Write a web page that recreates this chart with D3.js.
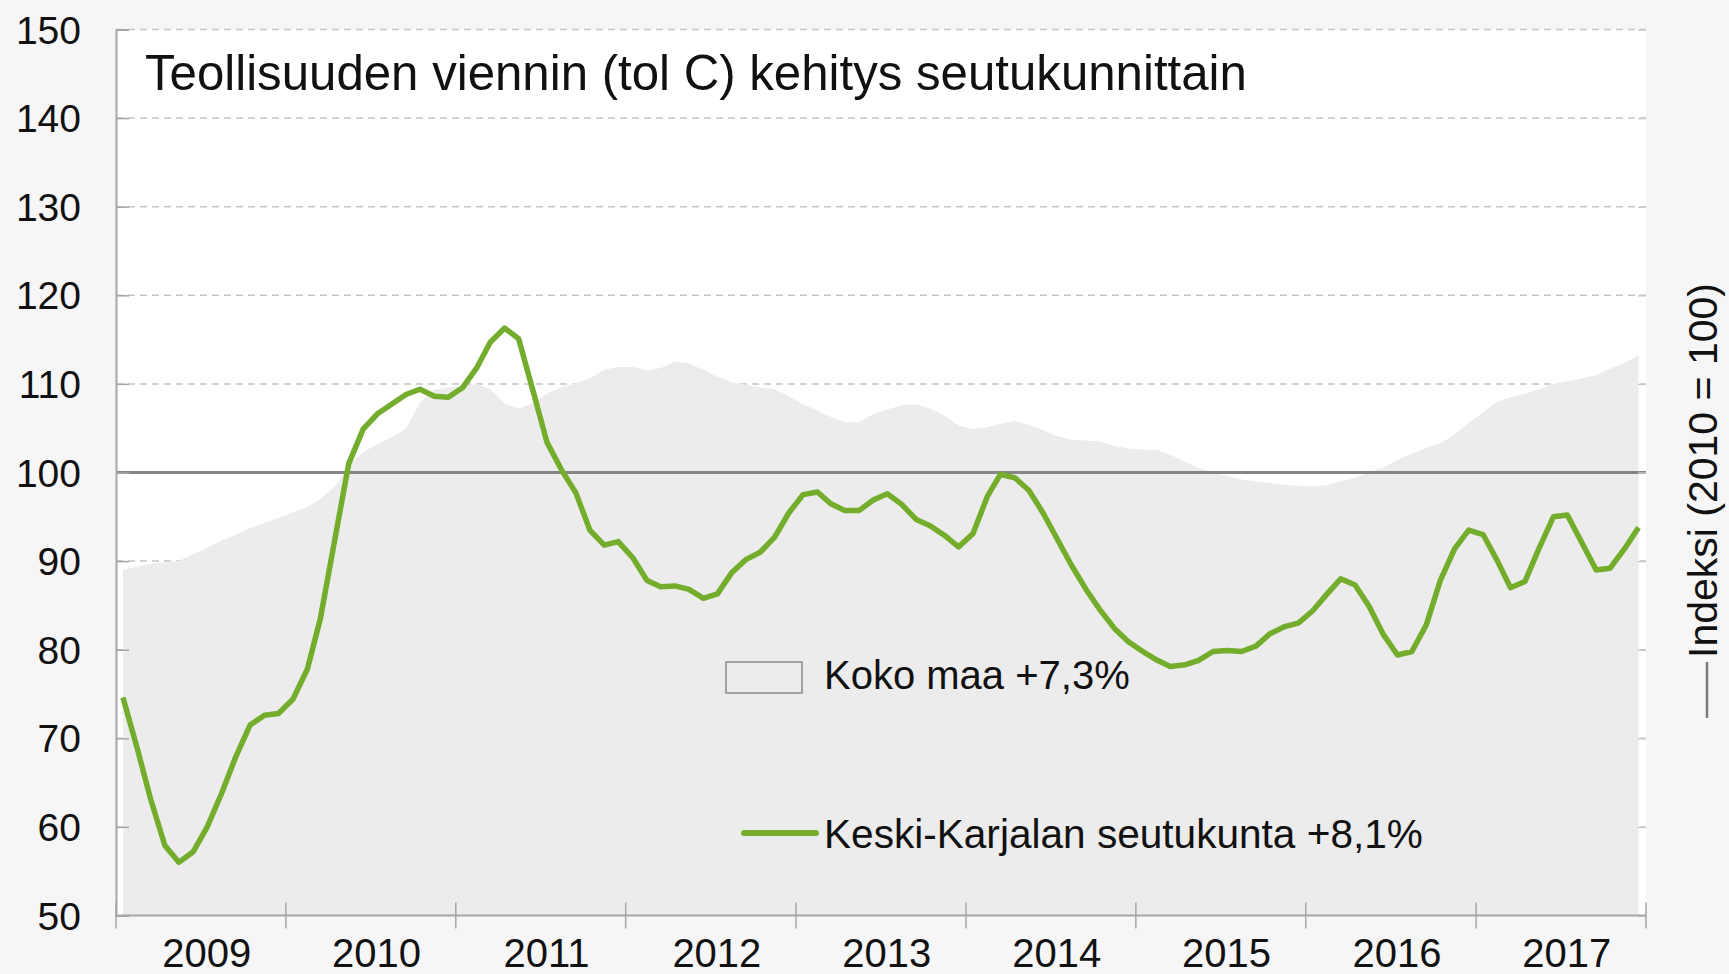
<!DOCTYPE html>
<html>
<head>
<meta charset="utf-8">
<script src="https://cdn.jsdelivr.net/npm/d3@7"></script>
<style>
  html, body { margin: 0; padding: 0; background: #f6f6f6; }
  svg { display: block; font-family: "Liberation Sans", Arial, sans-serif; }
</style>
</head>
<body>
<div id="chart"></div>
<script>
const TITLE = "Teollisuuden viennin (tol C) kehitys seutukunnittain"
const Y_LABEL = "Indeksi (2010 = 100)"
const START_YEAR = 2009
const YEARS = ["2009", "2010", "2011", "2012", "2013", "2014", "2015", "2016", "2017"]
const Y_TICKS = [50, 60, 70, 80, 90, 100, 110, 120, 130, 140, 150]

// Koko maa, monthly index 1/2009 - 12/2017
const kokoMaa = [
  89.0, 89.4, 89.7, 89.9, 90.0, 90.8, 91.5, 92.3, 93.0, 93.7, 94.3, 94.9,
  95.5, 96.1, 97.0, 98.4, 100.8, 102.3, 103.2, 104.0, 104.9, 107.9, 109.4, 109.6,
  109.8, 110.0, 109.4, 107.8, 107.2, 107.9, 108.9, 109.6, 110.1, 110.6, 111.6, 111.9,
  111.9, 111.5, 111.8, 112.5, 112.3, 111.6, 110.8, 110.2, 109.9, 109.6, 109.4, 108.6,
  107.7, 107.0, 106.3, 105.7, 105.7, 106.6, 107.1, 107.6, 107.7, 107.2, 106.4, 105.3,
  104.9, 105.1, 105.5, 105.8, 105.4, 104.8, 104.1, 103.7, 103.6, 103.5, 103.0, 102.7,
  102.6, 102.5, 102.0, 101.2, 100.5, 100.0, 99.6, 99.2, 99.0, 98.8, 98.6, 98.5,
  98.4, 98.6, 99.0, 99.4, 100.0, 100.6, 101.4, 102.1, 102.8, 103.3, 104.3, 105.6,
  106.8, 108.0, 108.5, 108.9, 109.4, 110.0, 110.3, 110.6, 111.0, 111.7, 112.4, 113.2
]

// Keski-Karjalan seutukunta
const keskiKarjala = [
  74.6, 68.8, 63.2, 57.9, 56.0, 57.2, 60.0, 63.8, 68.0, 71.5, 72.6, 72.8,
  74.4, 77.8, 83.5, 92.4, 101.0, 104.9, 106.6, 107.7, 108.8, 109.4, 108.6, 108.5,
  109.6, 111.9, 114.7, 116.3, 115.1, 109.2, 103.4, 100.3, 97.7, 93.5, 91.8, 92.2,
  90.4, 87.8, 87.1, 87.2, 86.8, 85.8, 86.3, 88.7, 90.2, 91.0, 92.7, 95.4,
  97.5, 97.8, 96.5, 95.7, 95.7, 96.9, 97.6, 96.4, 94.7, 94.0, 92.9, 91.6,
  93.1, 97.3, 99.8, 99.4, 98.0, 95.4, 92.5, 89.5, 86.8, 84.5, 82.4, 80.9,
  79.8, 78.8, 78.1, 78.3, 78.8, 79.8, 79.9, 79.8, 80.4, 81.8, 82.6, 83.0,
  84.4, 86.3, 88.0, 87.3, 84.9, 81.7, 79.4, 79.8, 82.8, 87.8, 91.4, 93.5,
  93.0, 90.0, 87.0, 87.7, 91.4, 95.0, 95.2, 92.1, 89.0, 89.2, 91.4, 93.8
]

const LEGEND = ["Koko maa +7,3%", "Keski-Karjalan seutukunta +8,1%"]

const WIDTH = 1729
const HEIGHT = 974
const PLOT = { LEFT: 116, RIGHT: 1646, TOP: 29.5, BOTTOM: 915.5 }
const GREEN = "#74ac2b"
const AREA_FILL = "#ececec"

const monthDate = i => new Date(START_YEAR, i, 16)
const series = kokoMaa.map((v, i) => ({ date: monthDate(i), koko: v, kk: keskiKarjala[i] }))

const svg = d3.select("#chart")
              .append("svg")
              .attr("width", WIDTH)
              .attr("height", HEIGHT)

const x = d3.scaleTime()
            .domain([new Date(START_YEAR, 0, 1), new Date(START_YEAR + YEARS.length, 0, 1)])
            .range([PLOT.LEFT, PLOT.RIGHT])
const y = d3.scaleLinear()
            .domain([50, 150])
            .range([PLOT.BOTTOM, PLOT.TOP])

// plot background
svg.append("rect")
   .attr("x", PLOT.LEFT)
   .attr("y", PLOT.TOP)
   .attr("width", PLOT.RIGHT - PLOT.LEFT)
   .attr("height", PLOT.BOTTOM - PLOT.TOP)
   .attr("fill", "#fff")

// dashed grid
svg.append("g")
   .selectAll("line")
   .data(Y_TICKS.filter(t => t > 50))
   .join("line")
   .attr("x1", PLOT.LEFT)
   .attr("x2", PLOT.RIGHT)
   .attr("y1", d => y(d))
   .attr("y2", d => y(d))
   .attr("stroke", "#c4c4c4")
   .attr("stroke-width", 1.5)
   .attr("stroke-dasharray", "7,5")

// Koko maa area
const area = d3.area()
               .x(d => x(d.date))
               .y0(y(50))
               .y1(d => y(d.koko))
svg.append("path")
   .datum(series)
   .attr("fill", AREA_FILL)
   .attr("d", area)

// index 100 line
svg.append("line")
   .attr("x1", PLOT.LEFT)
   .attr("x2", PLOT.RIGHT)
   .attr("y1", y(100))
   .attr("y2", y(100))
   .attr("stroke", "#858585")
   .attr("stroke-width", 3)

// Keski-Karjala line
const line = d3.line()
               .x(d => x(d.date))
               .y(d => y(d.kk))
svg.append("path")
   .datum(series)
   .attr("fill", "none")
   .attr("stroke", GREEN)
   .attr("stroke-width", 5.5)
   .attr("stroke-linejoin", "round")
   .attr("d", line)

// y axis (left)
const yAxis = svg.append("g")
                 .attr("transform", `translate(${PLOT.LEFT}, 0)`)
                 .call(d3.axisRight(y).tickValues(Y_TICKS).tickSize(13).tickFormat(""))
yAxis.select(".domain").attr("stroke", "#a6a6a6").attr("stroke-width", 2)
yAxis.selectAll(".tick line").attr("stroke", "#a6a6a6").attr("stroke-width", 1.5)

svg.append("g")
   .selectAll("text")
   .data(Y_TICKS)
   .join("text")
   .attr("x", 81)
   .attr("y", d => y(d) + 14)
   .attr("text-anchor", "end")
   .attr("font-size", 39)
   .attr("fill", "#111")
   .text(d => d)

// right side ticks
const yAxisR = svg.append("g")
                  .attr("transform", `translate(${PLOT.RIGHT}, 0)`)
                  .call(d3.axisLeft(y).tickValues(Y_TICKS).tickSize(8).tickFormat(""))
yAxisR.select(".domain").remove()
yAxisR.selectAll(".tick line").attr("stroke", "#c8c8c8").attr("stroke-width", 1.5)

// x axis
const yearStarts = d3.range(YEARS.length + 1).map(i => new Date(START_YEAR + i, 0, 1))
svg.append("line")
   .attr("x1", PLOT.LEFT)
   .attr("x2", PLOT.RIGHT)
   .attr("y1", PLOT.BOTTOM)
   .attr("y2", PLOT.BOTTOM)
   .attr("stroke", "#a6a6a6")
   .attr("stroke-width", 2)
svg.append("g")
   .selectAll("line")
   .data(yearStarts)
   .join("line")
   .attr("x1", d => x(d))
   .attr("x2", d => x(d))
   .attr("y1", PLOT.BOTTOM - 13)
   .attr("y2", PLOT.BOTTOM + 13)
   .attr("stroke", "#a6a6a6")
   .attr("stroke-width", 1.5)
svg.append("g")
   .selectAll("text")
   .data(YEARS)
   .join("text")
   .attr("x", (d, i) => x(new Date(START_YEAR + i, 6, 2)) + 6)
   .attr("y", 967)
   .attr("text-anchor", "middle")
   .attr("font-size", 40)
   .attr("fill", "#111")
   .text(d => d)

// title
svg.append("text")
   .attr("x", 145)
   .attr("y", 90)
   .attr("font-size", 49.2)
   .attr("fill", "#111")
   .text(TITLE)

// legend
svg.append("rect")
   .attr("x", 726)
   .attr("y", 662)
   .attr("width", 76)
   .attr("height", 31)
   .attr("fill", AREA_FILL)
   .attr("stroke", "#8a8a8a")
   .attr("stroke-width", 1.5)
svg.append("text")
   .attr("x", 824)
   .attr("y", 689)
   .attr("font-size", 40)
   .attr("fill", "#111")
   .text(LEGEND[0])

svg.append("line")
   .attr("x1", 744)
   .attr("x2", 816)
   .attr("y1", 833)
   .attr("y2", 833)
   .attr("stroke", GREEN)
   .attr("stroke-width", 6)
   .attr("stroke-linecap", "round")
svg.append("text")
   .attr("x", 824)
   .attr("y", 848)
   .attr("font-size", 40.6)
   .attr("fill", "#111")
   .text(LEGEND[1])

// right axis title with line sample
svg.append("line")
   .attr("x1", 1707)
   .attr("x2", 1707)
   .attr("y1", 662)
   .attr("y2", 718)
   .attr("stroke", "#7a7a7a")
   .attr("stroke-width", 2.5)
svg.append("text")
   .attr("transform", "translate(1717, 658) rotate(-90)")
   .attr("font-size", 41)
   .attr("fill", "#111")
   .text(Y_LABEL)
</script>
</body>
</html>
